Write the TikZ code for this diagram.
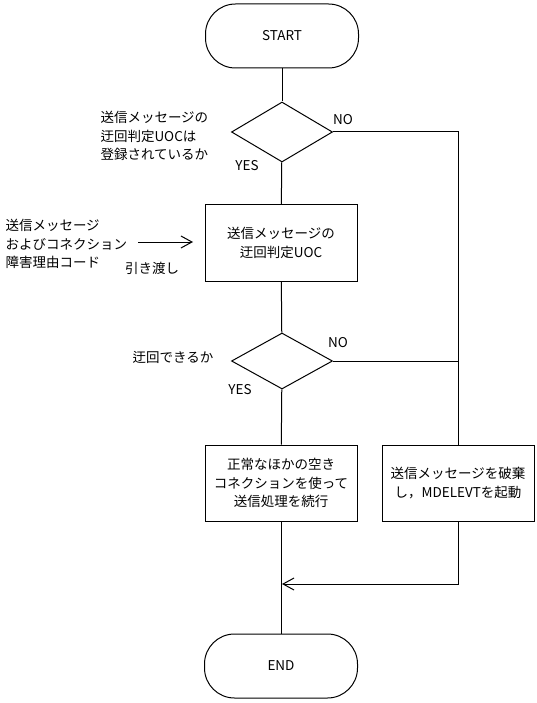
\documentclass[tikz,border=0pt]{standalone}
\usepackage{fontspec}
\setmainfont{Noto Sans CJK JP}
\usetikzlibrary{shapes.geometric,arrows.meta}
\begin{document}
\begin{tikzpicture}[x=1pt,y=-1pt,
  line width=1pt,
  txt/.style={font=\fontsize{13.5}{18.5}\selectfont},
  term/.style={draw,txt,rounded corners=30pt,minimum width=153pt,minimum height=64pt,inner sep=0pt},
  proc/.style={draw,txt,minimum width=152pt,minimum height=76pt,inner sep=0pt,align=center},
  dec/.style={draw,diamond,inner sep=0pt,minimum width=101pt,minimum height=60pt},
  lbl/.style={txt,inner sep=0pt},
  ar/.style={-{Straight Barb[length=11pt,width=12pt]}}
]
\useasboundingbox (0,0) rectangle (537,703);
\node[term] (start) at (282,36) {START};
\node[dec] (d1) at (282,132) {};
\node[proc] (p1) at (281,243) {送信メッセージの\\迂回判定UOC};
\node[dec,minimum height=56pt] (d2) at (282,361) {};
\node[proc] (p2) at (281,483) {正常なほかの空き\\コネクションを使って\\送信処理を続行};
\node[proc] (p3) at (458,483) {送信メッセージを破棄\\し，MDELEVTを起動};
\node[term] (end) at (281,666) {END};

\node[lbl,anchor=west,align=left] (q1) at (100,136) {送信メッセージの\\迂回判定UOCは\\登録されているか};
\node[lbl] (yes1) at (247,166) {YES};
\node[lbl] (no1) at (343,120) {NO};
\node[lbl,anchor=west,align=left] (inp) at (5,244) {送信メッセージ\\およびコネクション\\障害理由コード};
\node[lbl] (hand) at (152,268) {引き渡し};
\node[lbl] (q2) at (173,357) {迂回できるか};
\node[lbl] (no2) at (338,343) {NO};
\node[lbl] (yes2) at (240,390) {YES};

\coordinate (c1) at (458,132);
\coordinate (c2) at (458,361);
\coordinate (mm) at (282,584);
\coordinate (a1) at (138,242);
\coordinate (a2) at (193,242);

\draw (start) -- (d1);
\draw (d1) -- (p1);
\draw (p1) -- (d2);
\draw (d2) -- (p2);
\draw (p2) -- (end);
\draw (d1.east) -- (c1) -- (p3.north);
\draw (d2.east) -- (c2);
\draw[ar] (p3.south) |- (mm);
\draw[ar] (a1) -- (a2);
\end{tikzpicture}
\end{document}
